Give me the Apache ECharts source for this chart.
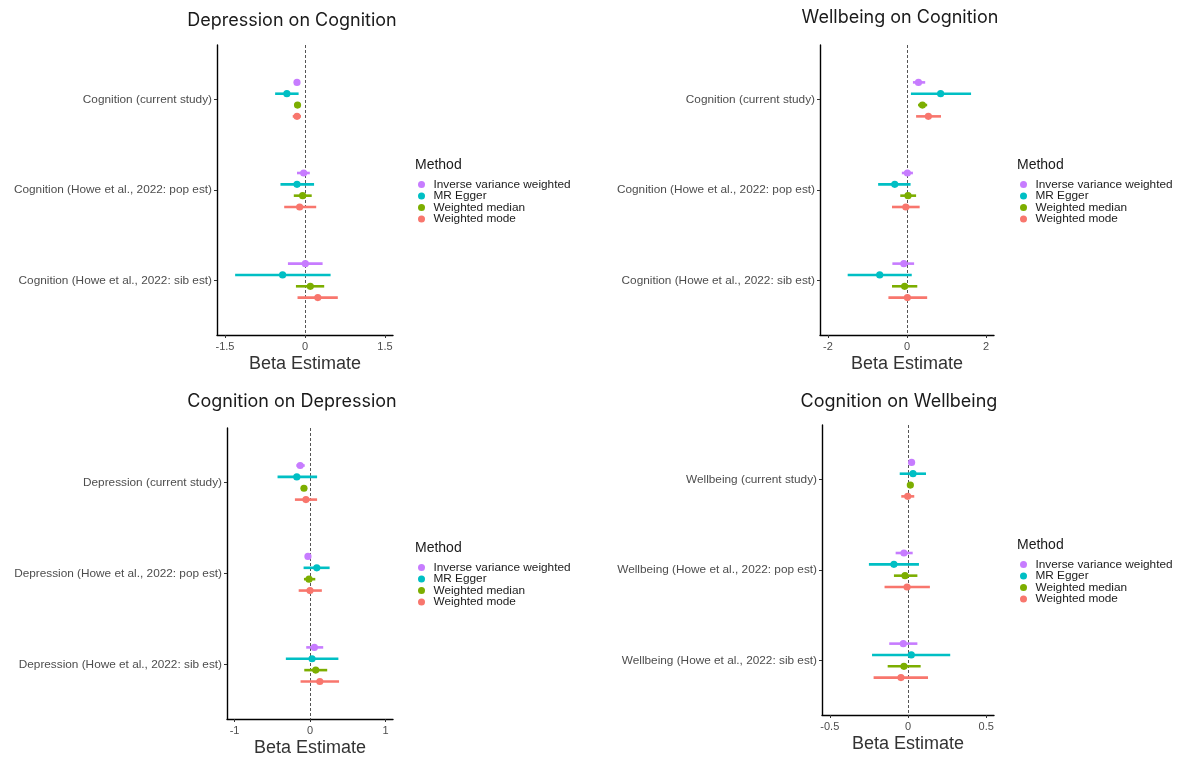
<!DOCTYPE html>
<html>
<head>
<meta charset="utf-8">
<script src="https://cdn.jsdelivr.net/npm/echarts@6/dist/echarts.min.js"></script>
<style>
html,body{margin:0;padding:0;background:#fff;}
#chart{width:1183px;height:760px;}
</style>
</head>
<body>
<div id="chart"></div>
<script>
// ---- data ----
const methods = ['Inverse variance weighted', 'MR Egger', 'Weighted median', 'Weighted mode'];
const methodColors = ['#C77CFF', '#00BFC4', '#7CAE00', '#F8766D'];

const titles = ['Depression on Cognition', 'Wellbeing on Cognition', 'Cognition on Depression', 'Cognition on Wellbeing'];

const p1Categories = ['Cognition (current study)', 'Cognition (Howe et al., 2022: pop est)', 'Cognition (Howe et al., 2022: sib est)'];
const p2Categories = ['Cognition (current study)', 'Cognition (Howe et al., 2022: pop est)', 'Cognition (Howe et al., 2022: sib est)'];
const p3Categories = ['Depression (current study)', 'Depression (Howe et al., 2022: pop est)', 'Depression (Howe et al., 2022: sib est)'];
const p4Categories = ['Wellbeing (current study)', 'Wellbeing (Howe et al., 2022: pop est)', 'Wellbeing (Howe et al., 2022: sib est)'];

// [estimate, lower, upper] per category
const p1IVW    = [[-0.15, -0.18, -0.12], [-0.025, -0.15, 0.09], [0.006, -0.32, 0.33]];
const p1Egger  = [[-0.34, -0.56, -0.12], [-0.15, -0.46, 0.17], [-0.42, -1.31, 0.48]];
const p1Median = [[-0.14, -0.17, -0.11], [-0.044, -0.21, 0.126], [0.10, -0.17, 0.36]];
const p1Mode   = [[-0.15, -0.23, -0.075], [-0.10, -0.39, 0.21], [0.24, -0.14, 0.615]];

const p2IVW    = [[0.29, 0.15, 0.46], [0.01, -0.13, 0.15], [-0.08, -0.37, 0.18]];
const p2Egger  = [[0.85, 0.10, 1.62], [-0.31, -0.73, 0.09], [-0.69, -1.50, 0.12]];
const p2Median = [[0.39, 0.28, 0.51], [0.025, -0.17, 0.23], [-0.06, -0.38, 0.26]];
const p2Mode   = [[0.54, 0.23, 0.86], [-0.03, -0.38, 0.32], [0.01, -0.47, 0.51]];

const p3IVW    = [[-0.13, -0.18, -0.07], [-0.027, -0.067, 0.013], [0.058, -0.05, 0.175]];
const p3Egger  = [[-0.175, -0.43, 0.094], [0.09, -0.085, 0.26], [0.027, -0.32, 0.376]];
const p3Median = [[-0.08, -0.12, -0.04], [-0.013, -0.08, 0.07], [0.076, -0.076, 0.228]];
const p3Mode   = [[-0.054, -0.20, 0.094], [0.0, -0.15, 0.157], [0.13, -0.125, 0.385]];

const p4IVW    = [[0.023, 0.009, 0.038], [-0.026, -0.079, 0.03], [-0.03, -0.12, 0.06]];
const p4Egger  = [[0.032, -0.053, 0.115], [-0.09, -0.25, 0.07], [0.021, -0.23, 0.27]];
const p4Median = [[0.015, 0.002, 0.028], [-0.019, -0.09, 0.06], [-0.026, -0.13, 0.081]];
const p4Mode   = [[-0.002, -0.043, 0.04], [-0.006, -0.15, 0.14], [-0.045, -0.22, 0.128]];

const xTicks1 = [-1.5, 0, 1.5];
const xTicks2 = [-2, 0, 2];
const xTicks3 = [-1, 0, 1];
const xTicks4 = [-0.5, 0, 0.5];

// ---- layout ----
const panels = [
  { cats: p1Categories, series: [p1IVW, p1Egger, p1Median, p1Mode], ticks: xTicks1, lim: 1.5,
    grid: { left: 217, top: 45, width: 176, height: 290 }, title: [292, 21], legend: [413, 158] },
  { cats: p2Categories, series: [p2IVW, p2Egger, p2Median, p2Mode], ticks: xTicks2, lim: 2,
    grid: { left: 820, top: 45, width: 174, height: 290 }, title: [900, 18], legend: [1015, 158] },
  { cats: p3Categories, series: [p3IVW, p3Egger, p3Median, p3Mode], ticks: xTicks3, lim: 1,
    grid: { left: 227, top: 428, width: 166, height: 291 }, title: [292, 402], legend: [413, 541] },
  { cats: p4Categories, series: [p4IVW, p4Egger, p4Median, p4Mode], ticks: xTicks4, lim: 0.5,
    grid: { left: 822, top: 425, width: 172, height: 290 }, title: [899, 402], legend: [1015, 538] }
];

const labelFont = 'Liberation Sans, Arial, Helvetica, sans-serif';
const titleFont = 'Inter, Noto Sans, sans-serif';

function renderItem(params, api) {
  const y = api.value(1);
  const p = api.coord([api.value(0), y]);
  const a = api.coord([api.value(2), y]);
  const b = api.coord([api.value(3), y]);
  const color = api.visual('color');
  return {
    type: 'group',
    children: [
      { type: 'line', shape: { x1: a[0], y1: a[1], x2: b[0], y2: b[1] }, style: { stroke: color, lineWidth: 2.6 } },
      { type: 'circle', shape: { cx: p[0], cy: p[1], r: 3.6 }, style: { fill: color } }
    ]
  };
}

const grid = [], xAxis = [], yAxis = [], series = [], legend = [], graphic = [];
const dodge = 0.125;

panels.forEach((pn, k) => {
  grid.push(Object.assign({ containLabel: false }, pn.grid));
  const pad = pn.lim * 0.1;
  xAxis.push({
    type: 'value', gridIndex: k, min: -pn.lim - pad, max: pn.lim + pad,
    name: 'Beta Estimate', nameLocation: 'middle', nameGap: 20,
    nameTextStyle: { fontFamily: labelFont, fontSize: 18, color: '#333333' },
    axisLine: { show: true, onZero: false, lineStyle: { color: '#000', width: 1.4 } },
    axisTick: { show: true, length: 3, customValues: pn.ticks, lineStyle: { color: '#333', width: 1 } },
    axisLabel: { customValues: pn.ticks, margin: 6, fontFamily: labelFont, fontSize: 11, color: '#4D4D4D',
      formatter: v => String(v) },
    splitLine: { show: false }
  });
  yAxis.push({
    type: 'value', gridIndex: k, inverse: true, min: 0.4, max: 3.6,
    axisLine: { show: true, onZero: false, lineStyle: { color: '#000', width: 1.4 } },
    axisTick: { show: true, length: 3, customValues: [1, 2, 3], lineStyle: { color: '#333', width: 1 } },
    axisLabel: { customValues: [1, 2, 3], margin: 5, fontFamily: labelFont, fontSize: 11.8, color: '#4D4D4D',
      formatter: v => pn.cats[Math.round(v) - 1] },
    splitLine: { show: false }
  });
  pn.series.forEach((arr, m) => {
    const data = arr.map((d, ci) => [d[0], ci + 1 + (m - 1.5) * dodge, d[1], d[2]]);
    const s = {
      type: 'custom', name: methods[m], xAxisIndex: k, yAxisIndex: k,
      renderItem: renderItem, itemStyle: { color: methodColors[m] },
      encode: { x: [0, 2, 3], y: 1 }, data: data, z: 3
    };
    if (m === 0) {
      s.markLine = {
        silent: true, symbol: 'none', label: { show: false },
        lineStyle: { color: '#555555', width: 1, type: [3, 2] },
        data: [{ xAxis: 0 }], z: 1
      };
    }
    series.push(s);
  });
  legend.push({
    data: methods, orient: 'vertical', left: pn.legend[0], top: pn.legend[1] + 15.5,
    icon: 'circle', itemWidth: 14, itemHeight: 7, itemGap: -0.5, selectedMode: false,
    textStyle: { fontFamily: labelFont, fontSize: 11.8, color: '#1a1a1a', lineHeight: 11.5, padding: [0, 0, 0, 0] }
  });
  graphic.push({
    type: 'text', left: pn.legend[0] + 2, top: pn.legend[1],
    style: { text: 'Method', fontFamily: labelFont, fontSize: 14, fill: '#1a1a1a' }
  });
  graphic.push({
    type: 'text', x: pn.title[0], y: pn.title[1],
    style: { text: titles[k], fontFamily: titleFont, fontSize: 18, fill: '#1a1a1a', align: 'center', verticalAlign: 'middle' }
  });
});

const chart = echarts.init(document.getElementById('chart'), null, { renderer: 'canvas' });
chart.setOption({
  animation: false,
  backgroundColor: '#ffffff',
  grid, xAxis, yAxis, series, legend, graphic
});
</script>
</body>
</html>
